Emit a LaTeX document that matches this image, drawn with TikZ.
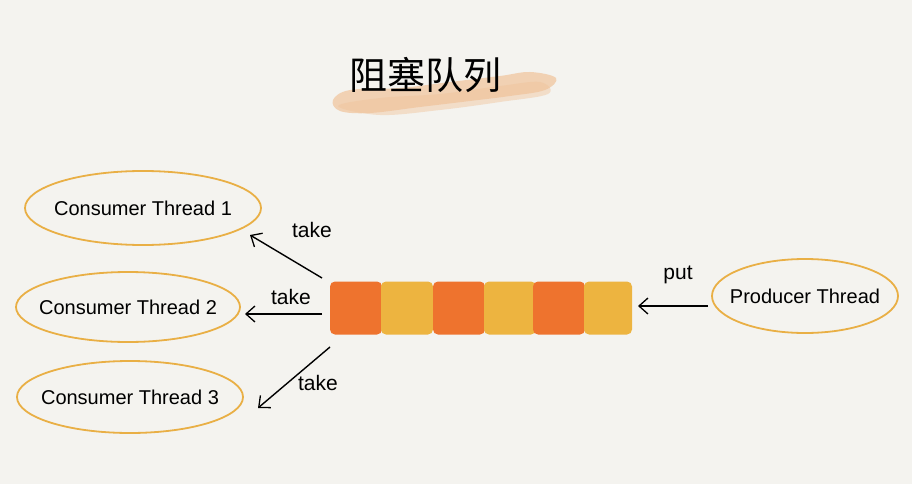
\documentclass[tikz,border=0pt]{standalone}
\usepackage{fontspec}
\setmainfont{Liberation Sans}
\newfontfamily\cjk{Noto Sans CJK SC}
\usetikzlibrary{shapes.geometric,arrows.meta,calc}
\definecolor{bg}{HTML}{F4F3EF}
\definecolor{ring}{HTML}{E9AF45}
\definecolor{qorange}{HTML}{EE732E}
\definecolor{qyellow}{HTML}{EDB440}
\definecolor{brush}{HTML}{F0C39A}
\tikzset{
  thread/.style={ellipse,draw=ring,line width=1.8pt,inner sep=0pt,
    label={[font=\fontsize{20}{20}\selectfont,inner sep=0pt]center:#1}},
  cell/.style={rectangle,rounded corners=5pt,minimum width=52pt,minimum height=53pt,inner sep=0pt,draw=none},
  arr/.style={-{Straight Barb[length=9pt,width=16pt,line width=1.3pt]},line width=1.4pt,black},
  lbl/.style={font=\fontsize{21}{21}\selectfont,inner sep=0pt}
}
\begin{document}
\begin{tikzpicture}[x=1pt,y=-1pt]
\fill[bg] (0,0) rectangle (912,484);
\useasboundingbox (0,0) rectangle (912,484);
% brush stroke
\fill[brush,opacity=0.7] plot[smooth cycle,tension=0.6] coordinates {(333,100) (350,90) (400,88) (450,82) (500,76) (530,72) (556,78) (545,90) (510,96) (470,101) (420,107) (370,113) (340,111)};
\fill[brush,opacity=0.45] plot[smooth cycle,tension=0.6] coordinates {(338,106) (380,98) (440,94) (500,86) (540,82) (548,94) (500,102) (440,110) (380,115)};
\node[font=\cjk\fontsize{38}{38}\selectfont,inner sep=0pt] (title) at (425,75) {阻塞队列};
% queue
\node[cell,fill=qorange] (q1) at (356,308) {};
\node[cell,fill=qyellow] (q2) at (407,308) {};
\node[cell,fill=qorange] (q3) at (459,308) {};
\node[cell,fill=qyellow] (q4) at (510,308) {};
\node[cell,fill=qorange] (q5) at (559,308) {};
\node[cell,fill=qyellow,minimum width=48pt] (q6) at (608,308) {};
% threads
\node[thread=Consumer Thread 1,minimum width=236pt,minimum height=74pt] (c1) at (143,208) {};
\node[thread=Consumer Thread 2,minimum width=224pt,minimum height=70pt] (c2) at (128,307) {};
\node[thread=Consumer Thread 3,minimum width=226pt,minimum height=72pt] (c3) at (130,397) {};
\node[thread=Producer Thread,minimum width=186pt,minimum height=74pt] (p) at (805,296) {};
% connectors
\coordinate (s1) at (322,278);
\coordinate (e1) at (250,235);
\coordinate (s2) at (322,314);
\coordinate (e2) at (245,314);
\coordinate (s3) at (330,347);
\coordinate (e3) at (258,408);
\coordinate (sp) at (708,306);
\coordinate (ep) at (638,306);
\draw[arr] (s1) -- (e1);
\draw[arr] (s2) -- (e2);
\draw[arr] (s3) -- (e3);
\draw[arr] (sp) -- (ep);
\node[lbl] (t1) at (312,230) {take};
\node[lbl] (t2) at (291,297) {take};
\node[lbl] (t3) at (318,383) {take};
\node[lbl] (tp) at (678,275) {put};
\end{tikzpicture}
\end{document}
